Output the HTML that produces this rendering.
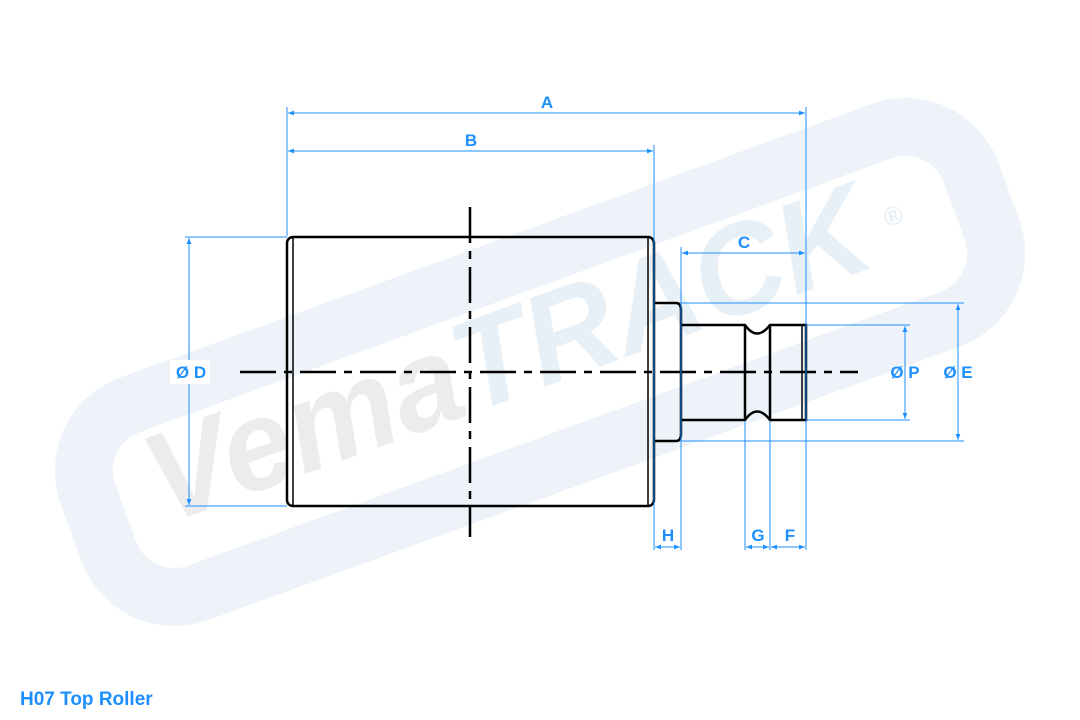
<!DOCTYPE html>
<html><head><meta charset="utf-8"><style>
html,body{margin:0;padding:0;background:#fff;}
svg{display:block;}
text{font-family:"Liberation Sans",sans-serif;font-weight:bold;}
</style></head><body>
<svg width="1080" height="720" viewBox="0 0 1080 720" xmlns="http://www.w3.org/2000/svg">
<defs>
<marker id="ar" viewBox="0 0 10 10" refX="10" refY="5" markerWidth="8" markerHeight="6" orient="auto-start-reverse" markerUnits="userSpaceOnUse"><path d="M0,1 L10,5 L0,9z" fill="#1e8fff"/></marker>
</defs>
<!-- watermark -->
<g transform="translate(540,362) rotate(-20)">
<rect x="-470" y="-100" width="940" height="200" rx="70" fill="#fff" stroke="#edf3f8" stroke-width="58"/>
</g>
<g transform="translate(165,525) rotate(-20)">
<text x="0" y="0" font-size="128" font-style="italic" fill="#ececec" textLength="760" lengthAdjust="spacingAndGlyphs">Vema<tspan fill="#e8f0f7">TRACK</tspan></text>
</g>
<text x="882" y="222" font-size="26" fill="#e8f0f7" transform="rotate(-20 900 210)">®</text>

<!-- body -->
<g fill="none" stroke="#000" stroke-width="2.5">
<rect x="287" y="237" width="367" height="269" rx="6"/>
<line x1="293" y1="238" x2="293" y2="505" stroke-width="1.5"/>
<line x1="648" y1="238" x2="648" y2="505" stroke-width="1.5"/>
<path d="M654,303 H676 Q681,303 681,310 V434 Q681,441 676,441 H654"/>
<path d="M681,325 H745 Q757,342 770,325 H806 V420 H770 Q757,403 745,420 H681"/>
<line x1="745" y1="325" x2="745" y2="420"/>
<line x1="770" y1="325" x2="770" y2="420"/>
<line x1="802" y1="325" x2="802" y2="420" stroke-width="1.5"/>
<line x1="240" y1="372" x2="858" y2="372" stroke-dasharray="36,8,8,8"/>
<line x1="470" y1="207" x2="470" y2="537" stroke-dasharray="36,8,8,8"/>
</g>

<!-- dimension lines -->
<g stroke="#1e8fff" stroke-width="1" fill="none">
<line x1="287" y1="107" x2="287" y2="236"/>
<line x1="806" y1="107" x2="806" y2="550"/>
<line x1="654" y1="145" x2="654" y2="550"/>
<line x1="681" y1="247" x2="681" y2="550"/>
<line x1="745" y1="421" x2="745" y2="550"/>
<line x1="770" y1="421" x2="770" y2="550"/>
<line x1="185" y1="237" x2="287" y2="237"/>
<line x1="185" y1="506" x2="287" y2="506"/>
<line x1="681" y1="303" x2="964" y2="303"/>
<line x1="681" y1="441" x2="964" y2="441"/>
<line x1="807" y1="325" x2="910" y2="325"/>
<line x1="807" y1="420" x2="910" y2="420"/>
<line x1="288" y1="113" x2="805" y2="113" marker-start="url(#ar)" marker-end="url(#ar)"/>
<line x1="288" y1="151" x2="653" y2="151" marker-start="url(#ar)" marker-end="url(#ar)"/>
<line x1="682" y1="253" x2="805" y2="253" marker-start="url(#ar)" marker-end="url(#ar)"/>
<line x1="189" y1="238" x2="189" y2="505" marker-start="url(#ar)" marker-end="url(#ar)"/>
<line x1="905" y1="326" x2="905" y2="419" marker-start="url(#ar)" marker-end="url(#ar)"/>
<line x1="958" y1="304" x2="958" y2="440" marker-start="url(#ar)" marker-end="url(#ar)"/>
<line x1="655" y1="547" x2="680" y2="547" marker-start="url(#ar)" marker-end="url(#ar)"/>
<line x1="746" y1="547" x2="769" y2="547" marker-start="url(#ar)" marker-end="url(#ar)"/>
<line x1="771" y1="547" x2="805" y2="547" marker-start="url(#ar)" marker-end="url(#ar)"/>
</g>
<g fill="#1e8fff" font-size="17" text-anchor="middle">
<rect x="170" y="360" width="40" height="24" fill="#fff"/>
<text x="191" y="378">Ø D</text>
<text x="547" y="108">A</text>
<text x="471" y="146">B</text>
<text x="744" y="248">C</text>
<text x="905" y="378">Ø P</text>
<text x="958" y="378">Ø E</text>
<text x="668" y="541">H</text>
<text x="758" y="541">G</text>
<text x="790" y="541">F</text>
</g>
<text x="20" y="705" font-size="19" fill="#1e8fff">H07 Top Roller</text>
</svg>
</body></html>
